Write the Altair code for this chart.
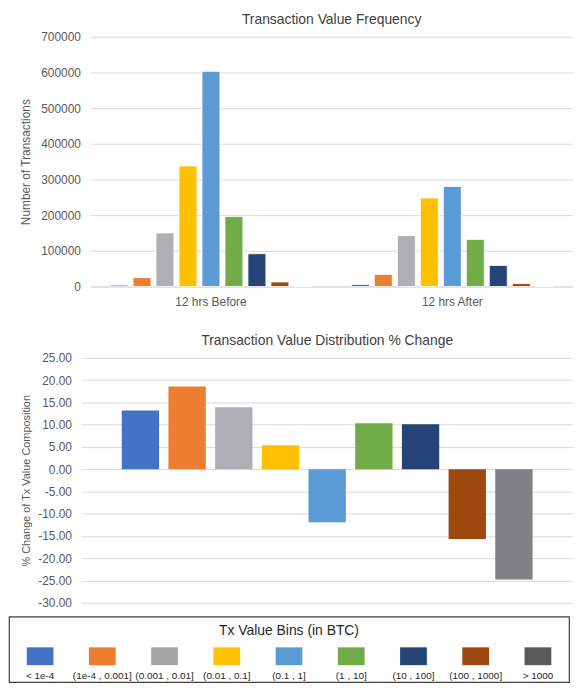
import altair as alt
import pandas as pd

# ---- data ----
bins = ["< 1e-4", "(1e-4 , 0.001]", "(0.001 , 0.01]", "(0.01 , 0.1]", "(0.1 , 1]",
        "(1 , 10]", "(10 , 100]", "(100 , 1000]", "> 1000"]
periods = ["12 hrs Before", "12 hrs After"]
before_counts = [4000, 25000, 150000, 338000, 603000, 196000, 92000, 12800, 0]
after_counts = [6000, 34000, 142500, 248000, 280500, 132000, 59000, 8300, 0]
pct_change = [13.2, 18.6, 13.9, 5.4, -11.9, 10.3, 10.1, -15.7, -24.8]

bar_colors = ["#4472C4", "#ED7D31", "#AEAFB2", "#FFC000", "#5B9BD5",
              "#70AD47", "#264478", "#9E480E", "#808184"]
legend_colors = ["#4472C4", "#ED7D31", "#A5A5A5", "#FFC000", "#5B9BD5",
                 "#70AD47", "#264478", "#9E480E", "#595959"]

FONT = "Liberation Sans"
TXT = "#595959"
GRID = "#D9D9D9"

freq_df = pd.DataFrame({
    "period": [periods[0]] * len(bins) + [periods[1]] * len(bins),
    "bin": bins + bins,
    "count": before_counts + after_counts,
})
chg_df = pd.DataFrame({"bin": bins, "change": pct_change})
leg_df = pd.DataFrame({"bin": bins})


def spacer(w):
    return alt.Chart(pd.DataFrame({"s": [0]})).mark_point(opacity=0, size=1).encode(
        x=alt.value(w / 2), y=alt.value(5)
    ).properties(width=w, height=10, view=alt.ViewBackground(stroke=None))


# ---- top chart ----
top = alt.Chart(freq_df).mark_bar(stroke="white", strokeWidth=0.8).encode(
    x=alt.X("period:N", sort=periods, title=None,
            scale=alt.Scale(paddingInner=0, paddingOuter=0),
            axis=alt.Axis(labelAngle=0, ticks=False, domain=True, domainColor=GRID,
                          labelFontSize=12, labelColor=TXT, labelFont=FONT, labelPadding=10,
                          grid=False)),
    xOffset=alt.XOffset("bin:N", sort=bins,
                        scale=alt.Scale(paddingInner=0.22, paddingOuter=0.86)),
    y=alt.Y("count:Q", title="Number of Transactions",
            scale=alt.Scale(domain=[0, 700000], nice=False),
            axis=alt.Axis(values=list(range(0, 700001, 100000)), format="d",
                          ticks=False, domain=False, gridColor=GRID,
                          labelFontSize=12, labelColor=TXT, labelFont=FONT, labelPadding=10,
                          titleFontSize=12, titleColor=TXT, titleFont=FONT,
                          titleFontWeight="normal", titlePadding=8)),
    color=alt.Color("bin:N", sort=bins, legend=None,
                    scale=alt.Scale(domain=bins, range=bar_colors)),
).properties(
    width=487, height=252,
    title=alt.Title("Transaction Value Frequency", fontSize=14, font=FONT,
                    color="#404040", fontWeight="normal", offset=4),
    view=alt.ViewBackground(stroke=None),
)

# ---- bottom chart ----
neg_label = "datum.value < 0 ? '-' + format(abs(datum.value), '.2f') : format(datum.value, '.2f')"
bottom = alt.Chart(chg_df).mark_bar().encode(
    x=alt.X("bin:N", sort=bins, title=None, axis=None,
            scale=alt.Scale(paddingInner=0.2, paddingOuter=0.865)),
    y=alt.Y("change:Q", title="% Change of Tx Value Composition",
            scale=alt.Scale(domain=[-30, 25], nice=False),
            axis=alt.Axis(values=list(range(-30, 26, 5)), labelExpr=neg_label,
                          ticks=False, domain=False, gridColor=GRID,
                          labelFontSize=12, labelColor=TXT, labelFont=FONT, labelPadding=10,
                          titleFontSize=11, titleColor=TXT, titleFont=FONT,
                          titleFontWeight="normal", titlePadding=6)),
    color=alt.Color("bin:N", sort=bins, legend=None,
                    scale=alt.Scale(domain=bins, range=bar_colors)),
).properties(
    width=496, height=247,
    title=alt.Title("Transaction Value Distribution % Change", fontSize=14, font=FONT,
                    color="#404040", fontWeight="normal", offset=4),
    view=alt.ViewBackground(stroke=None),
)

# ---- legend panel ----
LW, LH = 565, 66
leg_base = alt.Chart(leg_df).encode(
    x=alt.X("bin:N", sort=bins, axis=None,
            scale=alt.Scale(paddingInner=0, paddingOuter=0)),
)
swatches = leg_base.mark_bar(size=27).encode(
    y=alt.value(31), y2=alt.value(49),
    color=alt.Color("bin:N", sort=bins, legend=None,
                    scale=alt.Scale(domain=bins, range=legend_colors)),
)
labels = leg_base.mark_text(fontSize=10, font=FONT, color="#262626",
                            baseline="middle").encode(
    y=alt.value(60), text="bin:N",
)
leg_title = alt.Chart(pd.DataFrame({"t": ["Tx Value Bins (in BTC)"]})).mark_text(
    fontSize=14, font=FONT, color="#262626", baseline="middle"
).encode(x=alt.value(LW / 2), y=alt.value(15), text="t:N")

legend = alt.layer(swatches, labels, leg_title).properties(
    width=LW, height=LH,
    view=alt.ViewBackground(stroke="#404040", strokeWidth=1.2),
)

row_top = alt.hconcat(spacer(10), top, spacing=0)
row_bottom = alt.hconcat(spacer(11), bottom, spacing=0)
upper = alt.concat(row_top, row_bottom, columns=1, spacing=27, align="none")
chart = alt.concat(upper, legend, columns=1, spacing=7, align="none").resolve_scale(
    color="independent"
).properties(
    padding={"left": 0, "top": 2, "right": 0, "bottom": 0},
    background="white",
)

chart.save("out.html", embed_options={"renderer": "svg", "actions": False})
